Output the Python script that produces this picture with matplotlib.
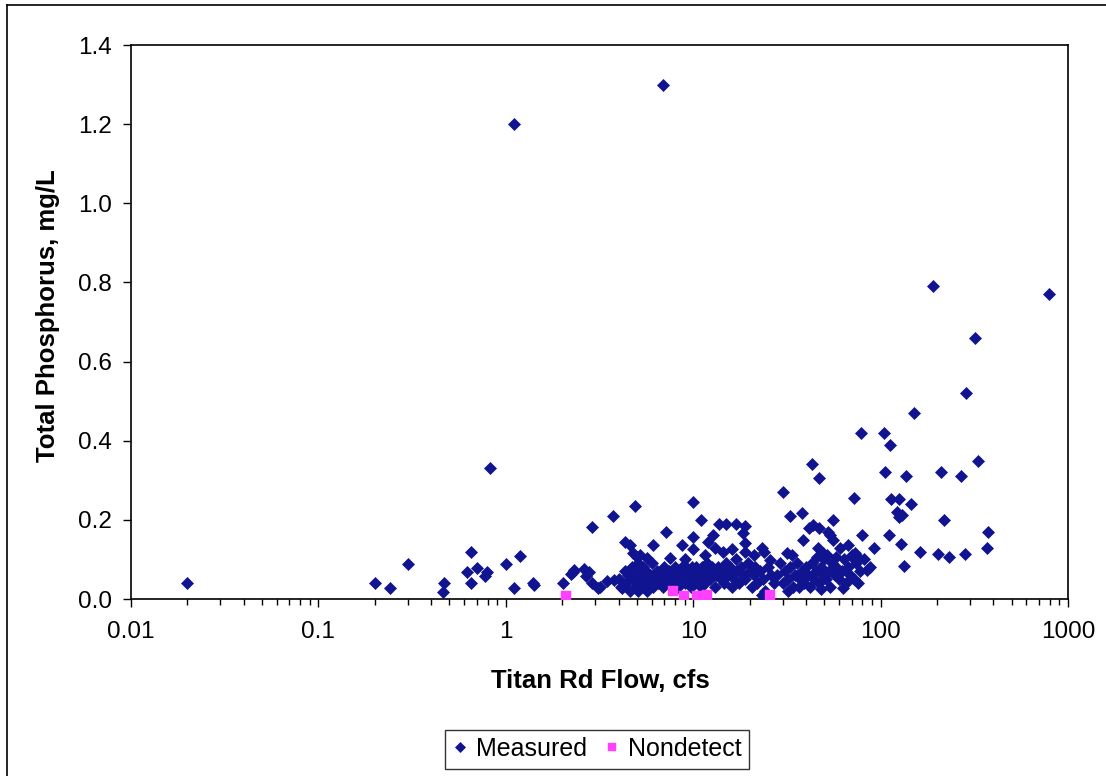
import matplotlib
matplotlib.use("Agg")
import matplotlib.pyplot as plt
from matplotlib.lines import Line2D
from matplotlib.ticker import FixedLocator, LogLocator, NullFormatter

plt.rcParams['font.family'] = ['Liberation Sans', 'DejaVu Sans']

# ---- data ----
measured_flow = [
    0.02, 0.20, 0.24, 0.30, 0.46, 0.47, 0.65, 0.62, 0.65, 0.70, 0.79, 0.77, 0.82,
    1.0, 1.1, 1.19, 1.1, 1.40, 1.41, 2.02, 2.23, 2.31, 2.27, 2.61, 2.78, 2.68,
    2.88, 2.88, 3.1, 3.2, 3.47, 3.8, 3.73, 4.17, 4.3, 4.6, 4.9, 5.0, 5.7, 6.1,
    6.9, 7.2, 7.5, 8.7, 10, 10, 10, 11, 12, 12.8, 13, 13.7, 15, 16.9, 18.9, 16.1,
    18.4, 18.9, 18.9, 23.3, 25.7, 23.3,
    # dense band 4-30 cfs
    4.0, 4.1, 4.3, 4.4, 4.5, 4.6, 4.7, 4.8, 4.9, 5.0, 5.0,
    5.1, 5.1, 5.2, 5.3, 5.4, 5.4, 5.5, 5.6, 5.7, 5.8, 5.9, 6.0,
    6.1, 6.2, 6.4, 6.5, 6.7, 6.9, 7.0, 7.2, 7.4, 7.6, 7.8, 8.0,
    8.2, 8.3, 8.5, 8.7, 8.8, 9.0, 9.2, 9.4, 9.5, 9.7, 9.9, 10.0,
    10.2, 10.4, 10.6, 10.8, 11.0, 11.2, 11.4, 11.6, 11.8, 12.0, 12.3, 12.6,
    13.0, 13.3, 13.6, 14.0, 14.3, 14.6, 15.0, 15.4, 15.8, 16.2, 16.6, 17.0, 17.5, 18.0,
    18.5, 19.0, 19.5, 20, 20.5, 21, 21.5, 22, 22.7, 23.5, 24.2, 25, 26, 27,
    4.8, 5.2, 9.0, 11.5, 14.5, 17, 21, 24,
    # 30-100 cfs
    30, 33, 38, 41.5, 43.6, 47, 55.7, 52.4, 53.6, 55.7, 38.5, 67, 60.7, 31.6, 33.7,
    46.3, 49.3, 73, 76, 73, 85, 76, 63, 48, 32, 36.7, 72, 80, 92, 43, 47, 79,
    46, 52, 58,
    28, 29, 30, 31, 32, 33, 34, 35, 36, 37, 38, 39, 40, 41, 42, 43, 44, 45, 47, 48,
    49, 50, 51, 53, 54, 55, 57, 58, 60, 62, 64, 65, 67, 69, 70, 72, 74, 78, 82, 88,
    # above 100 cfs
    104, 112, 105, 114, 125, 145, 123, 130, 126, 137, 150, 190, 210, 218, 270, 285,
    320, 330, 374, 371, 282, 232, 202, 162, 128, 111, 133, 790,
]
measured_tp = [
    0.04, 0.04, 0.028, 0.088, 0.018, 0.04, 0.119, 0.068, 0.04, 0.078, 0.068, 0.058, 0.33,
    0.088, 0.028, 0.109, 1.2, 0.04, 0.035, 0.04, 0.063, 0.073, 0.068, 0.076, 0.068, 0.058,
    0.182, 0.04, 0.028, 0.03, 0.045, 0.048, 0.21, 0.028, 0.144, 0.136, 0.235, 0.106, 0.104, 0.136,
    1.3, 0.17, 0.104, 0.136, 0.245, 0.157, 0.126, 0.2, 0.144, 0.162, 0.129, 0.19, 0.19, 0.19, 0.185, 0.126,
    0.167, 0.141, 0.119, 0.129, 0.099, 0.01,
    0.05, 0.03, 0.07, 0.04, 0.06, 0.02, 0.08, 0.05, 0.03, 0.07, 0.04,
    0.09, 0.02, 0.06, 0.04, 0.08, 0.03, 0.05, 0.07, 0.02, 0.04, 0.06, 0.09,
    0.03, 0.05, 0.07, 0.04, 0.06, 0.03, 0.08, 0.05, 0.07, 0.04, 0.06, 0.08,
    0.05, 0.03, 0.07, 0.08, 0.06, 0.04, 0.08, 0.07, 0.05, 0.03, 0.08, 0.06,
    0.04, 0.08, 0.07, 0.05, 0.03, 0.08, 0.06, 0.04, 0.09, 0.07, 0.05, 0.08,
    0.03, 0.06, 0.08, 0.05, 0.07, 0.04, 0.09, 0.06, 0.08, 0.03, 0.05, 0.07, 0.04, 0.08,
    0.06, 0.05, 0.09, 0.07, 0.03, 0.06, 0.08, 0.04, 0.07, 0.05, 0.02, 0.08, 0.06, 0.04,
    0.116, 0.11, 0.10, 0.11, 0.12, 0.10, 0.11, 0.12,
    0.27, 0.21, 0.217, 0.18, 0.187, 0.18, 0.2, 0.17, 0.162, 0.15, 0.15, 0.136, 0.128, 0.116, 0.111,
    0.128, 0.116, 0.116, 0.106, 0.099, 0.073, 0.04, 0.028, 0.025, 0.02, 0.03, 0.255, 0.162, 0.13, 0.34, 0.305, 0.42,
    0.106, 0.111, 0.106,
    0.06, 0.09, 0.04, 0.07, 0.05, 0.08, 0.03, 0.06, 0.09, 0.05, 0.07, 0.04, 0.08, 0.06, 0.03, 0.09, 0.05, 0.07, 0.04, 0.08,
    0.06, 0.10, 0.05, 0.07, 0.03, 0.09, 0.06, 0.08, 0.05, 0.07, 0.10, 0.04, 0.08, 0.06, 0.11, 0.05, 0.09, 0.07, 0.10, 0.08,
    0.42, 0.39, 0.32, 0.253, 0.253, 0.24, 0.22, 0.212, 0.207, 0.31, 0.47, 0.79, 0.32, 0.2, 0.31, 0.52,
    0.66, 0.35, 0.17, 0.13, 0.114, 0.106, 0.114, 0.12, 0.14, 0.162, 0.083, 0.77,
]
nondetect_flow = [2.1, 7.8, 8.9, 10.5, 11.9, 25.7]
nondetect_tp = [0.008, 0.02, 0.008, 0.008, 0.01, 0.01]

x_ticks = [0.01, 0.1, 1, 10, 100, 1000]
x_tick_labels = ["0.01", "0.1", "1", "10", "100", "1000"]
y_ticks = [0.0, 0.2, 0.4, 0.6, 0.8, 1.0, 1.2, 1.4]
y_tick_labels = ["0.0", "0.2", "0.4", "0.6", "0.8", "1.0", "1.2", "1.4"]

navy = "#111490"
pink = "#FF40FF"

W, H = 1106, 776
fig = plt.figure(figsize=(W / 100, H / 100), dpi=100)
fig.patch.set_facecolor("white")
ax = fig.add_axes([131 / W, 1 - 599 / H, (1068 - 131) / W, (599 - 45) / H])

ax.plot(measured_flow, measured_tp, linestyle="none", marker="D", markersize=6.5,
        color=navy, markeredgecolor=navy, markeredgewidth=0.5, label="Measured", zorder=3)
ax.plot(nondetect_flow, nondetect_tp, linestyle="none", marker="s", markersize=7.2,
        color=pink, markeredgecolor=pink, markeredgewidth=0.3, label="Nondetect", zorder=4)

ax.set_xscale("log")
ax.set_xlim(0.01, 1000)
ax.set_ylim(0, 1.4)
ax.xaxis.set_major_locator(FixedLocator(x_ticks))
ax.set_xticklabels(x_tick_labels)
ax.xaxis.set_minor_locator(LogLocator(base=10, subs=range(2, 10)))
ax.xaxis.set_minor_formatter(NullFormatter())
ax.set_yticks(y_ticks)
ax.set_yticklabels(y_tick_labels)

ax.tick_params(axis="x", which="major", direction="out", length=6, width=1, labelsize=17.5, pad=10)
ax.tick_params(axis="x", which="minor", direction="out", length=4, width=1)
ax.tick_params(axis="y", which="major", direction="out", length=6, width=1, labelsize=17.5, pad=8)
for s in ax.spines.values():
    s.set_color("black")
    s.set_linewidth(1.2)

fig.text(600 / W, 1 - 681 / H, "Titan Rd Flow, cfs", ha="center", va="center",
         fontsize=18.5, fontweight="bold")
fig.text(48 / W, 1 - 316 / H, "Total Phosphorus, mg/L", ha="center", va="center",
         rotation=90, fontsize=18.5, fontweight="bold")

leg = fig.legend(loc="center", bbox_to_anchor=(597 / W, 1 - 749 / H), ncol=2,
                 fontsize=18, frameon=True, fancybox=False, handlelength=0.6,
                 handletextpad=0.35, columnspacing=0.7, borderpad=0.3, markerscale=0.75)
leg.get_frame().set_edgecolor("black")
leg.get_frame().set_linewidth(1.0)

# outer chart border (left and top edges visible)
fig.add_artist(Line2D([7 / W, 7 / W], [0, 1 - 5 / H], color="black", linewidth=1.2,
                      transform=fig.transFigure))
fig.add_artist(Line2D([7 / W, 1], [1 - 5 / H, 1 - 5 / H], color="black", linewidth=1.2,
                      transform=fig.transFigure))

fig.savefig("out.png", dpi=100, facecolor="white")
